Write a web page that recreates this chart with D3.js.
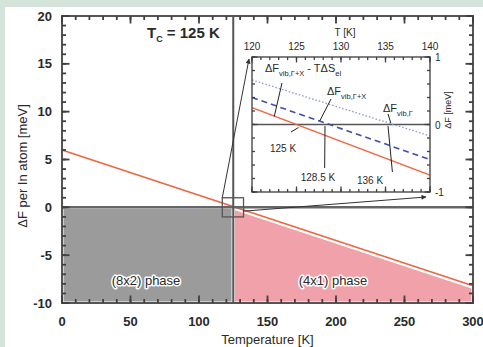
<!DOCTYPE html>
<html lang="en">
<head>
<meta charset="UTF-8">
<title>Free energy difference vs temperature</title>
<script src="https://cdn.jsdelivr.net/npm/d3@7"></script>
<style>
  body { margin: 0; background: #d5e4da; }
  svg { display: block; }
  text { font-family: "Liberation Sans", Arial, sans-serif; fill: #2a2a2a; }
  .num { font-weight: bold; font-size: 13px; }
  .halo { paint-order: stroke; stroke: #fff; stroke-width: 3px; stroke-linejoin: round; }
</style>
</head>
<body>
<svg width="483" height="347"></svg>
<script>
// ---- data ----
var tempRange = [0, 300];          // K
var dfRange = [-10, 20];           // meV
var tc = 125;                      // transition temperature
var mainLineT = [0, 300];
var mainLineF = [5.9, -8.3];       // orange, main panel

var insetT = [120, 140];
var insetF = [-1, 1];
var insetSolid  = [0.25, -0.75];   // dF_vib,G+X - T dS_el
var insetDashed = [0.40, -0.52];   // dF_vib,G+X
var insetDotted = [0.66, -0.17];   // dF_vib,G
var crossings = [125, 128.5, 136];
var zoomBoxT = [117, 132.5];
var zoomBoxF = [-1, 1];

var xMajor = [0, 50, 100, 150, 200, 250, 300];
var yMajor = [-10, -5, 0, 5, 10, 15, 20];
var xiMajor = [120, 125, 130, 135, 140];
var yiMajor = [-1, 0, 1];

var svg = d3.select("svg");
svg.append("rect").attr("x", 5).attr("y", 7).attr("width", 478).attr("height", 340).attr("fill", "#fff");

var x = d3.scaleLinear().domain(tempRange).range([62, 473]);
var y = d3.scaleLinear().domain(dfRange).range([303, 16]);
var xi = d3.scaleLinear().domain(insetT).range([252, 430]);
var yi = d3.scaleLinear().domain(insetF).range([192, 57]);

var lineF = d3.scaleLinear().domain(mainLineT).range(mainLineF);

// phase regions
svg.append("rect")
  .attr("x", x(0)).attr("y", y(0))
  .attr("width", x(tc) - x(0)).attr("height", y(-10) - y(0))
  .attr("fill", "#9b9b9b").attr("stroke", "#fff").attr("stroke-width", 3);

var pinkPts = [[tc, lineF(tc)], [300, lineF(300)], [300, -10], [tc, -10]];
svg.append("path")
  .attr("d", d3.line().x(d => x(d[0])).y(d => y(d[1]))(pinkPts) + "Z")
  .attr("fill", "#f0a1a9").attr("stroke", "#fff").attr("stroke-width", 3);

// white gap + orange line
svg.append("line")
  .attr("x1", x(mainLineT[0])).attr("y1", y(mainLineF[0]))
  .attr("x2", x(mainLineT[1])).attr("y2", y(mainLineF[1]))
  .attr("stroke", "#fff").attr("stroke-width", 4);
svg.append("line")
  .attr("x1", x(mainLineT[0])).attr("y1", y(mainLineF[0]) - 1)
  .attr("x2", x(mainLineT[1])).attr("y2", y(mainLineF[1]) - 1)
  .attr("stroke", "#f0653f").attr("stroke-width", 1.6);

// zero line and Tc line
svg.append("line")
  .attr("x1", x(0)).attr("x2", x(300)).attr("y1", y(0)).attr("y2", y(0))
  .attr("stroke", "#666").attr("stroke-width", 2.5);
svg.append("line")
  .attr("x1", x(tc)).attr("x2", x(tc)).attr("y1", y(20)).attr("y2", y(-10))
  .attr("stroke", "#555").attr("stroke-width", 2);

// inward ticks drawn from the scales
function stepVals(scale, step) {
  var dom = scale.domain();
  return d3.range(dom[0], dom[1] + step / 2, step);
}
function edgeTicks(scale, vals, horiz, pos, dir, len, w) {
  var g = svg.append("g");
  g.selectAll("line").data(vals).enter().append("line")
    .attr("x1", d => horiz ? scale(d) : pos)
    .attr("x2", d => horiz ? scale(d) : pos + dir * len)
    .attr("y1", d => horiz ? pos : scale(d))
    .attr("y2", d => horiz ? pos + dir * len : scale(d))
    .attr("stroke", "#404040").attr("stroke-width", w);
}
function frameTicks(xs, ys, xMin, xMaj, yMin, yMaj, minLen, majLen, w) {
  var xr = xs.range(), yr = ys.range();
  edgeTicks(xs, stepVals(xs, xMin), true, yr[0], -1, minLen, w);
  edgeTicks(xs, xMaj, true, yr[0], -1, majLen, w);
  edgeTicks(xs, stepVals(xs, xMin), true, yr[1], 1, minLen, w);
  edgeTicks(xs, xMaj, true, yr[1], 1, majLen, w);
  edgeTicks(ys, stepVals(ys, yMin), false, xr[0], 1, minLen, w);
  edgeTicks(ys, yMaj, false, xr[0], 1, majLen, w);
  edgeTicks(ys, stepVals(ys, yMin), false, xr[1], -1, minLen, w);
  edgeTicks(ys, yMaj, false, xr[1], -1, majLen, w);
}

svg.append("rect")
  .attr("x", x(0)).attr("y", y(20)).attr("width", x(300) - x(0)).attr("height", y(-10) - y(20))
  .attr("fill", "none").attr("stroke", "#555").attr("stroke-width", 2);

frameTicks(x, y, 10, xMajor, 1, yMajor, 4, 7.5, 1.8);

svg.append("g").selectAll("text").data(xMajor).enter().append("text")
  .attr("class", "num").attr("x", d => x(d)).attr("y", y(-10) + 23)
  .attr("text-anchor", "middle").text(d => d);
svg.append("g").selectAll("text").data(yMajor).enter().append("text")
  .attr("class", "num").attr("x", x(0) - 10).attr("y", d => y(d) + 4.5)
  .attr("text-anchor", "end").text(d => d);

// axis titles
svg.append("text").attr("x", (x(0) + x(300)) / 2).attr("y", 344)
  .attr("text-anchor", "middle").attr("font-size", 13).text("Temperature [K]");
svg.append("text").attr("transform", "translate(27," + 166 + ") rotate(-90)")
  .attr("text-anchor", "middle").attr("font-size", 13).text("\u0394F per In atom [meV]");

var tcText = svg.append("text").attr("x", 147).attr("y", 38).attr("font-size", 15).attr("font-weight", "bold");
tcText.append("tspan").text("T");
tcText.append("tspan").attr("font-size", 9).attr("dy", 4).text("C");
tcText.append("tspan").attr("dy", -4).text(" = 125 K");

svg.append("text").attr("class", "halo").attr("x", 146).attr("y", 285)
  .attr("text-anchor", "middle").attr("font-size", 13).text("(8x2) phase");
svg.append("text").attr("class", "halo").attr("x", 333).attr("y", 285)
  .attr("text-anchor", "middle").attr("font-size", 13).text("(4x1) phase");

// zoom box + connectors
svg.append("defs").append("marker")
  .attr("id", "arr").attr("viewBox", "0 0 10 10").attr("refX", 9).attr("refY", 5)
  .attr("markerWidth", 7).attr("markerHeight", 5).attr("orient", "auto")
  .append("path").attr("d", "M0,0L10,5L0,10Z").attr("fill", "#333");

svg.append("rect")
  .attr("x", x(zoomBoxT[0])).attr("y", y(zoomBoxF[1]))
  .attr("width", x(zoomBoxT[1]) - x(zoomBoxT[0])).attr("height", y(zoomBoxF[0]) - y(zoomBoxF[1]))
  .attr("fill", "none").attr("stroke", "#555").attr("stroke-width", 1.3);
svg.append("line")
  .attr("x1", x(zoomBoxT[0])).attr("y1", y(zoomBoxF[1]))
  .attr("x2", xi(120) - 3).attr("y2", yi(1) + 2)
  .attr("stroke", "#333").attr("stroke-width", 1).attr("marker-end", "url(#arr)");
svg.append("line")
  .attr("x1", x(zoomBoxT[1])).attr("y1", y(-0.4))
  .attr("x2", xi(140) - 4).attr("y2", yi(-1) + 5)
  .attr("stroke", "#333").attr("stroke-width", 1).attr("marker-end", "url(#arr)");

// ---- inset ----
svg.append("rect")
  .attr("x", xi(120)).attr("y", yi(1)).attr("width", xi(140) - xi(120)).attr("height", yi(-1) - yi(1))
  .attr("fill", "#fff");

svg.append("line").attr("x1", xi(120)).attr("x2", xi(140)).attr("y1", yi(0)).attr("y2", yi(0))
  .attr("stroke", "#555").attr("stroke-width", 1.5);

function insetLine(vals, color, width, dash) {
  svg.append("line")
    .attr("x1", xi(insetT[0])).attr("y1", yi(vals[0]))
    .attr("x2", xi(insetT[1])).attr("y2", yi(vals[1]))
    .attr("stroke", color).attr("stroke-width", width)
    .attr("stroke-dasharray", dash);
}
insetLine(insetDotted, "#8a94d6", 1.3, "1.5,2");
insetLine(insetDashed, "#3d4fa8", 1.6, "6,4");
insetLine(insetSolid, "#f0653f", 1.6, null);

svg.append("rect")
  .attr("x", xi(120)).attr("y", yi(1)).attr("width", xi(140) - xi(120)).attr("height", yi(-1) - yi(1))
  .attr("fill", "none").attr("stroke", "#555").attr("stroke-width", 1.5);

frameTicks(xi, yi, 1, xiMajor, 0.2, yiMajor, 3, 5.5, 1.3);

svg.append("g").selectAll("text").data(xiMajor).enter().append("text")
  .attr("x", d => xi(d)).attr("y", yi(1) - 7).attr("font-size", 10)
  .attr("text-anchor", "middle").text(d => d);
svg.append("g").selectAll("text").data(yiMajor).enter().append("text")
  .attr("x", xi(140) + 5).attr("y", d => yi(d) + 4).attr("font-size", 10)
  .text(d => d);

svg.append("text").attr("x", 345).attr("y", 36).attr("text-anchor", "middle")
  .attr("font-size", 10).text("T [K]");
svg.append("text").attr("transform", "translate(451,110) rotate(-90)").attr("text-anchor", "middle")
  .attr("font-size", 9).text("\u0394F [meV]");

function dfLabel(xp, yp, sub, extra, extraSub) {
  var t = svg.append("text").attr("x", xp).attr("y", yp).attr("font-size", 11);
  t.append("tspan").text("\u0394F");
  t.append("tspan").attr("font-size", 7.5).attr("dy", 4).text(sub);
  if (extra) {
    t.append("tspan").attr("dy", -4).text(extra);
    t.append("tspan").attr("font-size", 7.5).attr("dy", 4).text(extraSub);
  }
}
dfLabel(265, 72, "vib,\u0393+X", " - T\u0394S", "el");
dfLabel(327, 95, "vib,\u0393+X");
dfLabel(383, 112, "vib,\u0393");

var tLabels = [["125 K", 283, 152], ["128.5 K", 318, 181], ["136 K", 370, 184]];
svg.selectAll(".tlab").data(crossings).enter().append("text")
  .attr("x", (d, i) => tLabels[i][1]).attr("y", (d, i) => tLabels[i][2])
  .attr("text-anchor", "middle").attr("font-size", 10).text((d, i) => tLabels[i][0]);

// pointers
var pointers = [
  [282, 83, xi(122.5), yi(0.12)],
  [331, 99, xi(127.6), yi(0.05)],
  [388, 114, xi(135.6), yi(0.02)],
  [291, 132, xi(crossings[0]) + 2, yi(0) + 3],
  [325, 126, xi(crossings[1]) - 3, 168],
  [388, 126, xi(crossings[2]) - 2, 172]
];
svg.selectAll(".ptr").data(pointers).enter().append("line")
  .attr("x1", d => d[0]).attr("y1", d => d[1]).attr("x2", d => d[2]).attr("y2", d => d[3])
  .attr("stroke", "#222").attr("stroke-width", 1);
</script>
</body>
</html>
